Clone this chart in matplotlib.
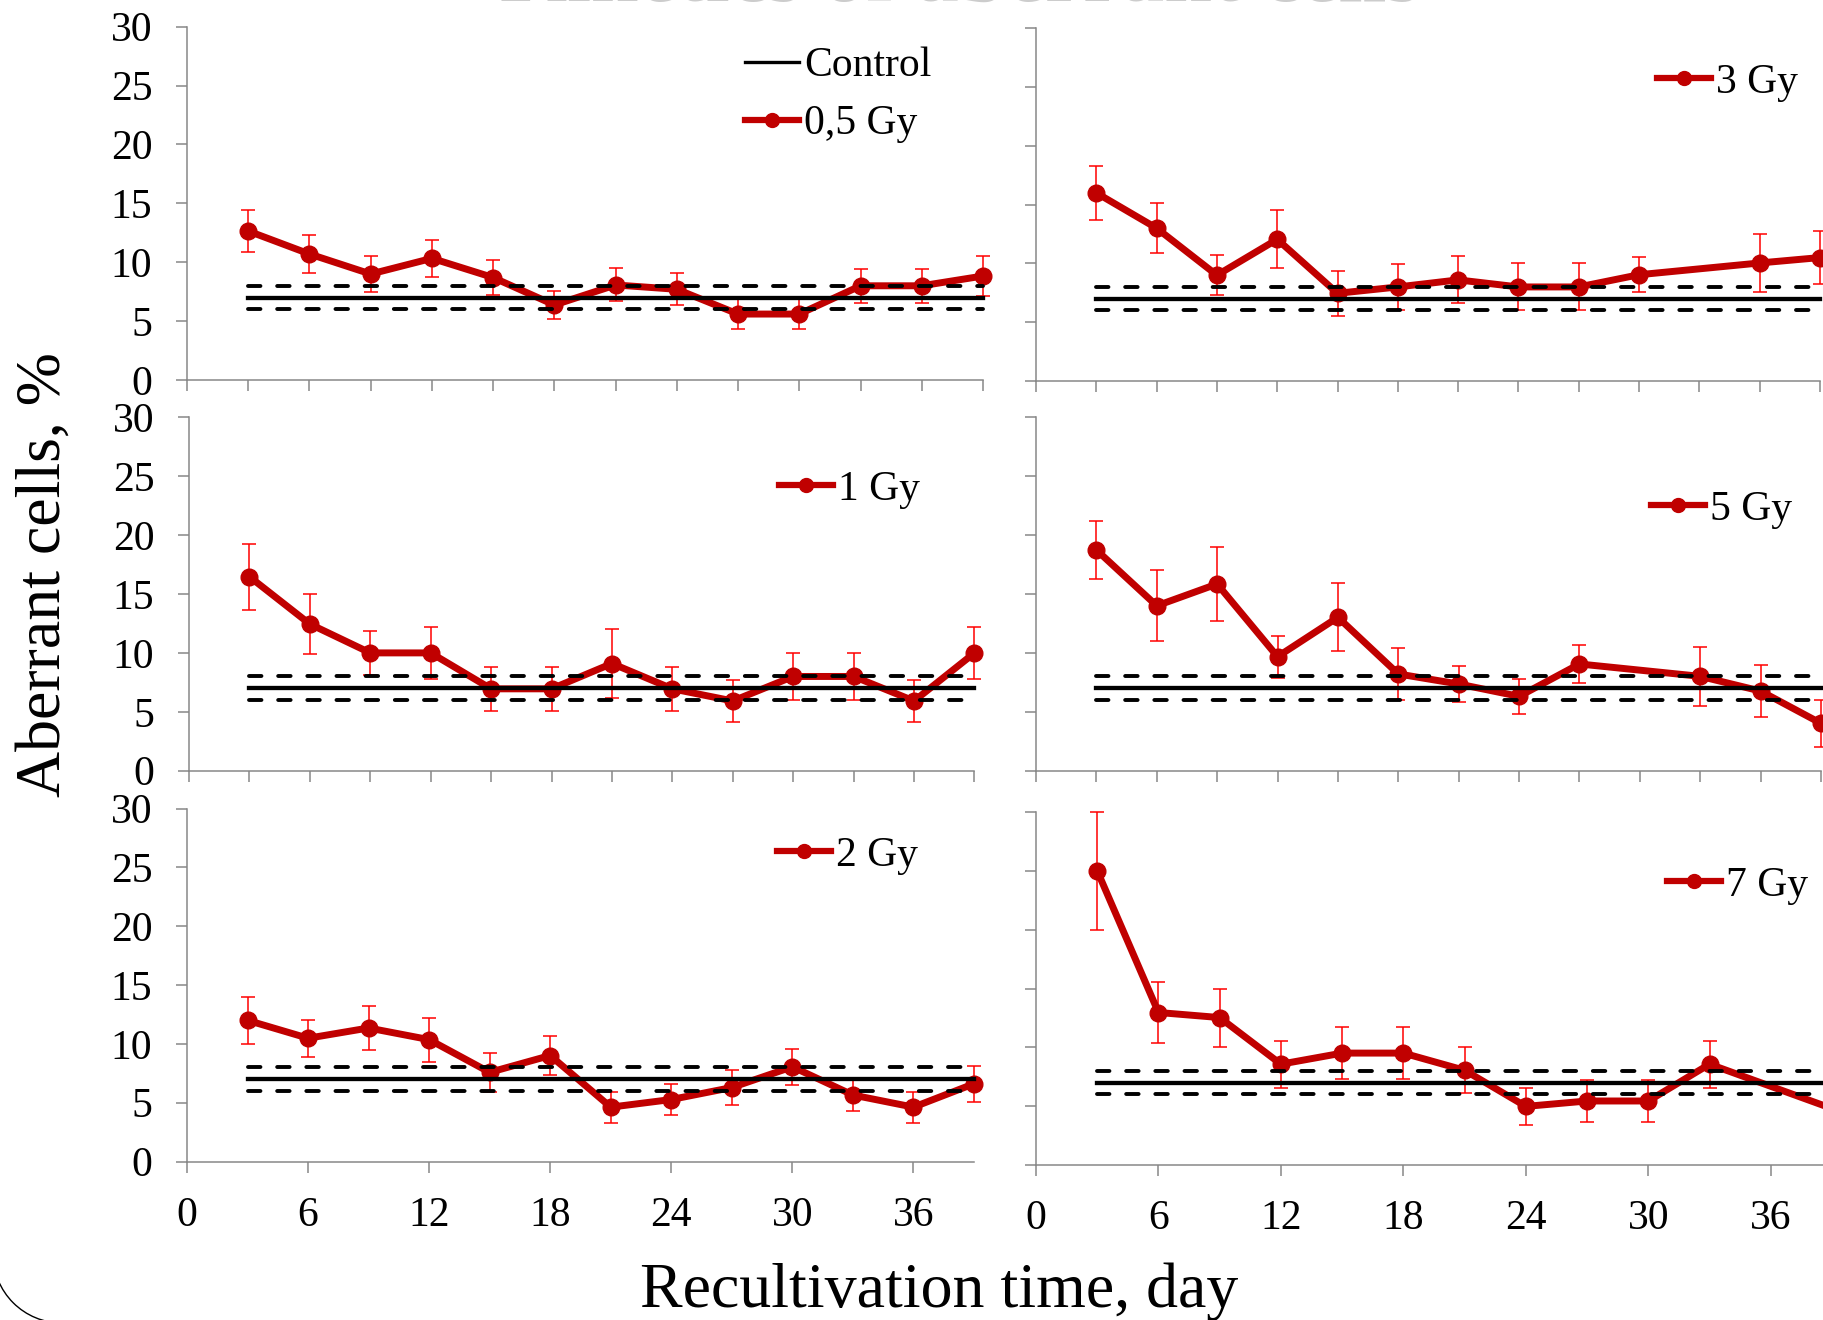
import matplotlib
matplotlib.use('Agg')
import matplotlib.pyplot as plt
from matplotlib.lines import Line2D
from matplotlib.patches import Arc

plt.rcParams['font.family'] = ['Liberation Serif', 'DejaVu Serif']

# recultivation days
days_all = [3, 6, 9, 12, 15, 18, 21, 24, 27, 30, 33, 36, 39]
days_3gy = [3, 6, 9, 12, 15, 18, 21, 24, 27, 30, 36, 39]
days_5gy = [3, 6, 9, 12, 15, 18, 21, 24, 27, 33, 36, 39]
days_7gy = [3, 6, 9, 12, 15, 18, 21, 24, 27, 30, 33, 39]

# aberrant cells, % (mean and error)
gy05 = [12.65, 10.7, 9.0, 10.33, 8.7, 6.37, 8.07, 7.7, 5.6, 5.6, 8.0, 8.0, 8.83]
gy05_err = [1.8, 1.6, 1.5, 1.6, 1.45, 1.2, 1.4, 1.35, 1.3, 1.25, 1.45, 1.45, 1.67]
gy1 = [16.47, 12.45, 10.0, 10.0, 6.95, 6.95, 9.1, 6.95, 5.92, 8.0, 8.0, 5.92, 10.0]
gy1_err = [2.8, 2.55, 1.84, 2.2, 1.84, 1.84, 2.89, 1.84, 1.78, 2.0, 2.0, 1.78, 2.2]
gy2 = [12.0, 10.48, 11.35, 10.36, 7.58, 9.01, 4.62, 5.27, 6.29, 8.05, 5.65, 4.62, 6.61]
gy2_err = [2.0, 1.58, 1.88, 1.87, 1.64, 1.67, 1.32, 1.32, 1.49, 1.55, 1.35, 1.32, 1.52]
gy3 = [16.0, 13.0, 9.0, 12.05, 7.46, 8.0, 8.6, 8.0, 8.0, 9.04, 10.04, 10.5]
gy3_err = [2.3, 2.1, 1.7, 2.47, 1.9, 1.95, 2.0, 2.0, 2.0, 1.5, 2.45, 2.25]
gy5 = [18.74, 14.0, 15.85, 9.68, 13.02, 8.21, 7.36, 6.31, 9.06, 8.01, 6.76, 4.02]
gy5_err = [2.46, 3.0, 3.1, 1.78, 2.89, 2.2, 1.56, 1.5, 1.64, 2.49, 2.2, 2.0]
gy7 = [25.0, 12.96, 12.53, 8.57, 9.51, 9.51, 8.05, 4.98, 5.44, 5.44, 8.57, 4.8]
gy7_err = [5.0, 2.63, 2.46, 2.0, 2.2, 2.2, 1.96, 1.6, 1.76, 1.76, 2.0, 1.8]

# control level and its bounds
ctrl = 7.0
ctrl_lo = 6.0
ctrl_hi = 8.0
ctrl_days = [3, 39]

y_ticks = [0, 5, 10, 15, 20, 25, 30]
x_ticks_bottom = [0, 6, 12, 18, 24, 30, 36]
x_ticks_minor = [0, 3, 6, 9, 12, 15, 18, 21, 24, 27, 30, 33, 36, 39]

W, H = 1823, 1320
fig = plt.figure(figsize=(W / 100, H / 100), dpi=100)

RED = '#C00000'
ERR = '#FF0000'
GRAY = '#878787'


def add_ax(l, r, t, b):
    return fig.add_axes([l / W, 1 - b / H, (r - l) / W, (b - t) / H])


def draw_panel(ax, x, y, err, label, leg_xy, bottom=False, left=False, with_ctrl_label=False):
    ax.set_xlim(0, 39)
    ax.set_ylim(0, 30)
    for s in ['top', 'right']:
        ax.spines[s].set_visible(False)
    for s in ['left', 'bottom']:
        ax.spines[s].set_color(GRAY)
        ax.spines[s].set_linewidth(1.1)

    # control lines
    ax.plot(ctrl_days, [ctrl, ctrl], color='black', lw=3.1, zorder=4, clip_on=False)
    for v in [ctrl_lo, ctrl_hi]:
        ax.plot(ctrl_days, [v, v], color='black', lw=2.8, ls=(0, (3.2, 4.3)),
                dash_capstyle='round', zorder=4, clip_on=False)

    # irradiated series
    ax.errorbar(x, y, yerr=err, fmt='none', ecolor=ERR, elinewidth=1.1,
                capsize=4.7, capthick=1.1, zorder=2, clip_on=False)
    ax.plot(x, y, color=RED, lw=5.0, marker='o', ms=12, zorder=3, clip_on=False)

    ax.set_yticks(y_ticks)
    if left:
        ax.set_yticklabels([str(t) for t in y_ticks])
    else:
        ax.set_yticklabels([])
    if bottom:
        ax.set_xticks(x_ticks_bottom)
        ax.set_xticklabels([str(t) for t in x_ticks_bottom])
    else:
        ax.set_xticks(x_ticks_minor)
        ax.set_xticklabels([])
    ax.tick_params(axis='both', direction='out', length=8, width=1.1, color=GRAY,
                   labelsize=30, pad=17)

    # legend
    handles = []
    labels = []
    if with_ctrl_label:
        handles.append(Line2D([], [], color='black', lw=2.4))
        labels.append('Control')
    handles.append(Line2D([], [], color=RED, lw=4.5, marker='o', ms=10))
    labels.append(label)
    ax.legend(handles, labels, loc='center left',
              bbox_to_anchor=(leg_xy[0] / W, 1 - (leg_xy[1] + 3.5) / H),
              bbox_transform=fig.transFigure, frameon=False, borderpad=0,
              borderaxespad=0, handlelength=1.3, handletextpad=0.12,
              labelspacing=0.47, numpoints=1, fontsize=30)


ax_tl = add_ax(187, 983, 26.7, 380)
ax_ml = add_ax(189, 974.5, 417.3, 770.7)
ax_bl = add_ax(187, 974, 808.6, 1161.5)
ax_tr = add_ax(1036, 1820, 28.3, 381)
ax_mr = add_ax(1036, 1821, 417.3, 770.7)
ax_br = add_ax(1036, 1832, 812, 1165)

draw_panel(ax_tl, days_all, gy05, gy05_err, '0,5 Gy', (745, 91.5), left=True, with_ctrl_label=True)
draw_panel(ax_ml, days_all, gy1, gy1_err, '1 Gy', (779, 486), left=True)
draw_panel(ax_bl, days_all, gy2, gy2_err, '2 Gy', (777, 852), left=True, bottom=True)
draw_panel(ax_tr, days_3gy, gy3, gy3_err, '3 Gy', (1657, 79))
draw_panel(ax_mr, days_5gy, gy5, gy5_err, '5 Gy', (1651, 506))
draw_panel(ax_br, days_7gy, gy7, gy7_err, '7 Gy', (1667, 882), bottom=True)

# axis titles
fig.text(60 / W, 1 - 575 / H, 'Aberrant cells, %', rotation=90, rotation_mode='anchor',
         ha='center', va='baseline', fontsize=46)
fig.text(939 / W, 1 - 1307 / H, 'Recultivation time, day', ha='center', va='baseline',
         fontsize=46)

# faint slide title, cut by the top edge as in the source picture
fig.text(960 / W, 1 - 1 / H, 'Kinetics of aberrant cells', ha='center', va='baseline',
         fontsize=62, fontweight='bold', color='#cccccc')

# rounded frame corner visible at lower left
fig.add_artist(Arc((62 / W, 1 - 1254 / H), 2 * 69 / W, 2 * 69 / H, theta1=180, theta2=270,
                   transform=fig.transFigure, color='black', lw=1.0))

fig.savefig('out.png', dpi=100)
